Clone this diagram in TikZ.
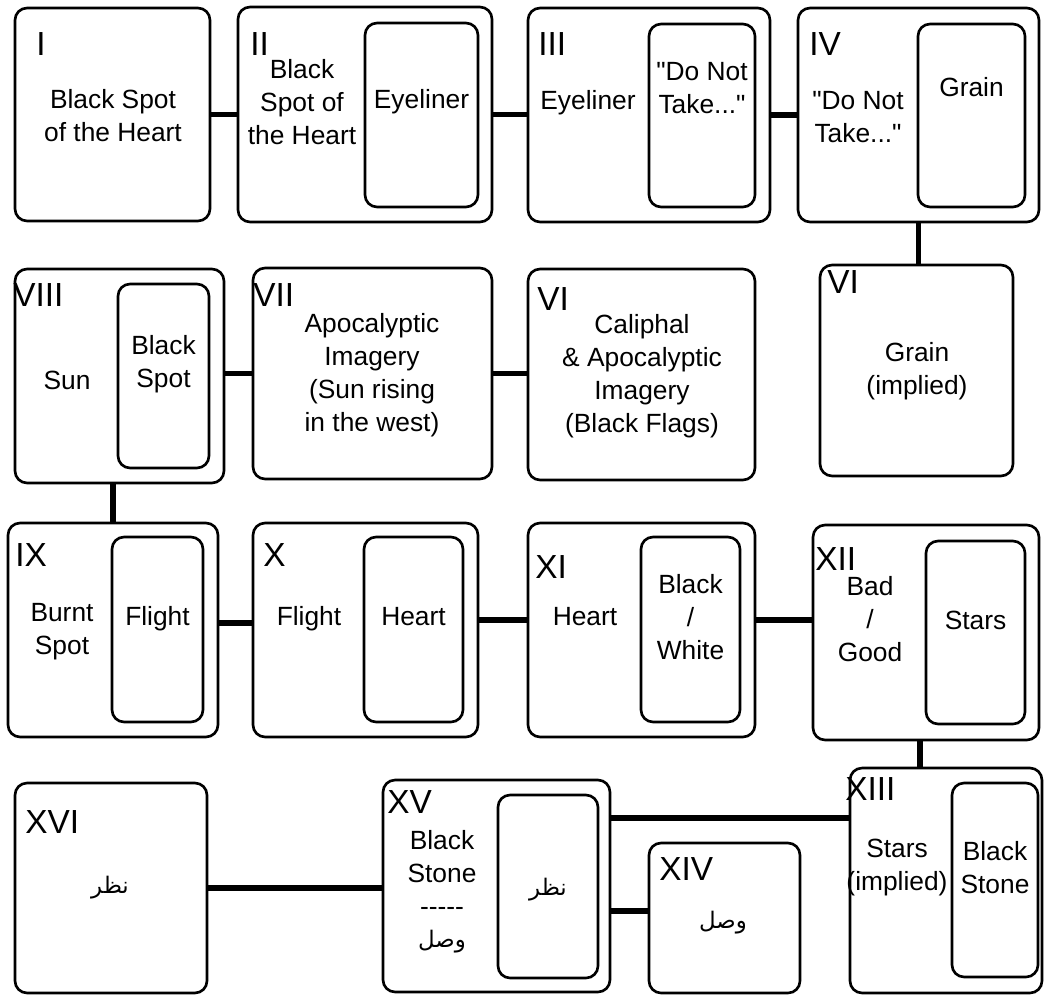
\documentclass[tikz,border=0pt]{standalone}
\usepackage{fontspec}
\setmainfont{Liberation Sans}[Ligatures=TeXOff]
\newfontfamily\arabicfont[Script=Arabic]{DejaVu Sans}
\TeXXeTstate=1
\usetikzlibrary{calc}
\tikzset{
  box/.style={draw, line width=1.5pt, rounded corners=0.24cm, inner sep=0pt},
  sz/.style 2 args={minimum width=#1cm, minimum height=#2cm},
  num/.style={anchor=north west, inner sep=0pt, font=\fontsize{19}{19}\selectfont},
  txt/.style={align=center, inner sep=0pt, font=\fontsize{15}{18.8}\selectfont},
  ar/.style={inner sep=0pt, font=\fontsize{13}{18.8}\selectfont\arabicfont},
  link/.style={line width=3.2pt},
}
\begin{document}
\begin{tikzpicture}[x=0.02cm, y=-0.02cm]
  \useasboundingbox (0,0) rectangle (1047,994);
  % row one
  \node[box, sz={3.9}{4.26}] (b1) at (112.5,114.5) {};
  \node[num] at (36,32) {I};
  \node[txt] at (113,116) {Black Spot\\of the Heart};
  \node[box, sz={5.08}{4.3}] (b2) at (365,114.5) {};
  \node[box, sz={2.26}{3.68}] (in2) at (421.5,115) {};
  \node[num] at (250,32) {II};
  \node[txt] at (302,102) {Black\\Spot of\\the Heart};
  \node[txt] at (in2 |- 0,102) {Eyeliner};
  \node[box, sz={4.84}{4.28}] (b3) at (649,115) {};
  \node[box, sz={2.12}{3.66}] (in3) at (702,115.5) {};
  \node[num] at (538,32) {III};
  \node[txt] at (588,103) {Eyeliner};
  \node[txt] at (in3 |- 0,88) {"Do Not\\Take..."};
  \node[box, sz={4.82}{4.28}] (b4) at (918.5,115) {};
  \node[box, sz={2.14}{3.66}] (in4) at (971.5,115.5) {};
  \node[num] at (809,32) {IV};
  \node[txt] at (858,117) {"Do Not\\Take..."};
  \node[txt] at (in4 |- 0,87) {Grain};
  % row two
  \node[box, sz={4.18}{4.28}] (b8) at (119.5,376) {};
  \node[box, sz={1.82}{3.68}] (in8) at (163.5,376) {};
  \node[num] at (13,283) {VIII};
  \node[txt] at (67,380) {Sun};
  \node[txt] at (in8 |- 0,364) {Black\\Spot};
  \node[box, sz={4.78}{4.22}] (b7) at (372.5,373.5) {};
  \node[num] at (253,283) {VII};
  \node[txt] at (372,375) {Apocalyptic\\Imagery\\(Sun rising\\in the west)};
  \node[box, sz={4.54}{4.22}] (b6c) at (641.5,374.5) {};
  \node[num] at (537,287) {VI};
  \node[txt] at (642,376) {Caliphal\\\& Apocalyptic\\Imagery\\(Black Flags)};
  \node[box, sz={3.86}{4.22}] (b6g) at (916.5,370.5) {};
  \node[num] at (827,270) {VI};
  \node[txt] at (917,371) {Grain\\(implied)};
  % row three
  \node[box, sz={4.2}{4.28}] (b9) at (113,630) {};
  \node[box, sz={1.82}{3.7}] (in9) at (157.5,629.5) {};
  \node[num] at (15,543) {IX};
  \node[txt] at (62,632) {Burnt\\Spot};
  \node[txt] at (in9 |- 0,619) {Flight};
  \node[box, sz={4.5}{4.28}] (b10) at (365.5,630) {};
  \node[box, sz={1.98}{3.7}] (in10) at (413.5,629.5) {};
  \node[num] at (263,543) {X};
  \node[txt] at (309,619) {Flight};
  \node[txt] at (in10 |- 0,617) {Heart};
  \node[box, sz={4.54}{4.28}] (b11) at (641.5,630) {};
  \node[box, sz={1.98}{3.7}] (in11) at (690.5,629.5) {};
  \node[num] at (535,555) {XI};
  \node[txt] at (585,617) {Heart};
  \node[txt] at (in11 |- 0,617) {Black\\/\\White};
  \node[box, sz={4.52}{4.3}] (b12) at (926,632.5) {};
  \node[box, sz={1.98}{3.66}] (in12) at (975.5,632.5) {};
  \node[num] at (815,547) {XII};
  \node[txt] at (870,619) {Bad\\/\\Good};
  \node[txt] at (in12 |- 0,620) {Stars};
  % row four
  \node[box, sz={3.84}{4.2}] (b16) at (111,888) {};
  \node[num] at (25,810) {XVI};
  \node[ar] at (110,888) {\beginR نظر\endR};
  \node[box, sz={4.54}{4.24}] (b15) at (496.5,886) {};
  \node[box, sz={2.0}{3.66}] (in15) at (548,886.5) {};
  \node[num] at (387,790) {XV};
  \node[txt] at (442,873) {Black\\Stone\\-----};
  \node[ar] at (442,942) {\beginR وصل\endR};
  \node[ar] at (in15 |- 0,890) {\beginR نظر\endR};
  \node[box, sz={3.02}{3.0}] (b14) at (724.5,918) {};
  \node[num] at (659,857) {XIV};
  \node[ar] at (723,923) {\beginR وصل\endR};
  \node[box, sz={3.84}{4.5}] (b13) at (946,880.5) {};
  \node[box, sz={1.72}{3.88}] (in13) at (995,880) {};
  \node[num] at (845,777) {XIII};
  \node[txt] at (897,868) {Stars\\(implied)};
  \node[txt] at (in13 |- 0,868) {Black\\Stone};
  % links
  \coordinate (c9) at ([yshift=0.14cm]b9.east);
  \coordinate (c10) at ([yshift=0.2cm]b10.east);
  \coordinate (c11) at ([yshift=0.2cm]b11.east);
  \coordinate (c12) at ([xshift=-0.12cm]b12.south);
  \coordinate (c15a) at ([xshift=0.2cm,yshift=1.37cm]in15.east);
  \coordinate (c15b) at ([xshift=0.2cm,yshift=-0.49cm]in15.east);
  \draw[link] (b1.east) -- (b1.east -| b2.west);
  \draw[link] (b2.east) -- (b2.east -| b3.west);
  \draw[link] (b3.east) -- (b3.east -| b4.west);
  \draw[link] (b4.south) -- (b4.south |- b6g.north);
  \draw[link] (b7.west) -- (b7.west -| b8.east);
  \draw[link] (b7.east) -- (b7.east -| b6c.west);
  \draw[link] (b9.north) -- (b9.north |- b8.south);
  \draw[link] (c9) -- (c9 -| b10.west);
  \draw[link] (c10) -- (c10 -| b11.west);
  \draw[link] (c11) -- (c11 -| b12.west);
  \draw[link] (c12) -- (c12 |- b13.north);
  \draw[link] (b16.east) -- (b16.east -| b15.west);
  \draw[link] (c15a) -- (c15a -| b13.west);
  \draw[link] (c15b) -- (c15b -| b14.west);
\end{tikzpicture}
\end{document}
